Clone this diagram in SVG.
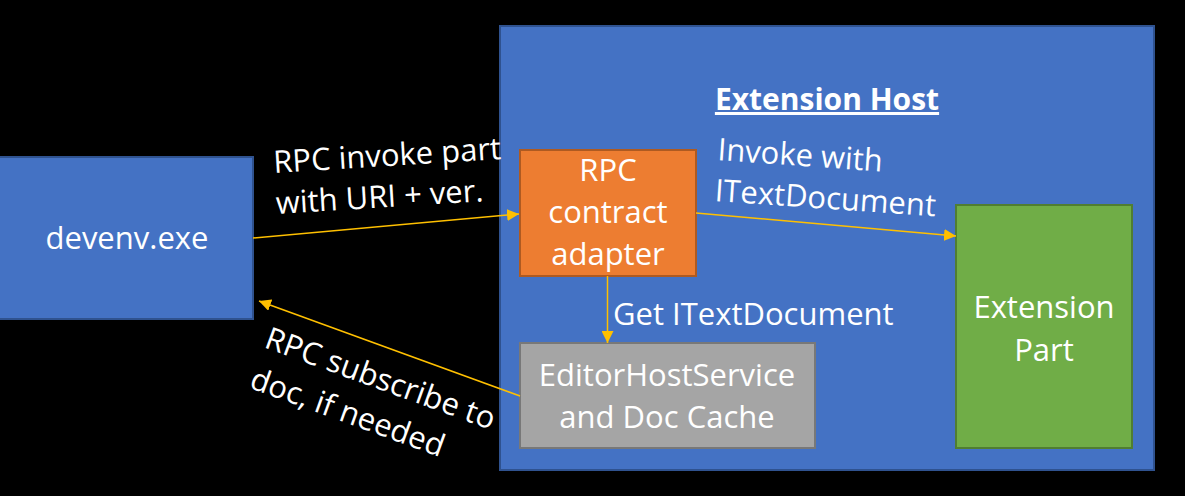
<svg xmlns="http://www.w3.org/2000/svg" width="1185" height="496" viewBox="0 0 1185 496">
<defs>
<style>
.t{font-family:"Open Sans","Noto Sans","DejaVu Sans",sans-serif;font-size:31px;fill:#ffffff}
.c{text-anchor:middle}
.b{font-weight:bold;font-size:30px}
.box{stroke-width:2}
.blue{fill:#4472C4;stroke:#2F528F}
.orange{fill:#ED7D31;stroke:#AE5A21}
.gray{fill:#A5A5A5;stroke:#787878}
.green{fill:#70AD47;stroke:#507E32}
.conn{stroke:#FFC000;stroke-width:1.5;fill:none;marker-end:url(#ah)}
</style>
<marker id="ah" viewBox="0 0 12 12" markerWidth="12" markerHeight="12" refX="12" refY="6" orient="auto" markerUnits="userSpaceOnUse">
<path d="M0,0 L12,6 L0,12 z" fill="#FFC000"/>
</marker>
</defs>
<rect x="0" y="0" width="1185" height="496" fill="#000000"/>
<g id="extension-host">
<rect class="box blue" x="500" y="26" width="654" height="444"/>
<text class="t c b" x="827" y="110" text-decoration="underline">Extension Host</text>
</g>
<g id="devenv">
<rect class="box blue" x="-1" y="157" width="254" height="162"/>
<text class="t c" x="127" y="249">devenv.exe</text>
</g>
<g id="rpc-adapter">
<rect class="box orange" x="520" y="150" width="176" height="126"/>
<text class="t c" x="608" y="181">RPC</text>
<text class="t c" x="608" y="223">contract</text>
<text class="t c" x="608" y="265">adapter</text>
</g>
<g id="editor-host-service">
<rect class="box gray" x="520" y="343" width="295" height="105"/>
<text class="t c" x="667" y="386">EditorHostService</text>
<text class="t c" x="667" y="428">and Doc Cache</text>
</g>
<g id="extension-part">
<rect class="box green" x="956" y="205" width="176" height="243"/>
<text class="t c" x="1044" y="318">Extension</text>
<text class="t c" x="1044" y="361">Part</text>
</g>
<g id="connectors">
<line class="conn" x1="253" y1="238" x2="519" y2="214"/>
<line class="conn" x1="696" y1="213" x2="956" y2="236"/>
<line class="conn" x1="607.5" y1="276" x2="607.5" y2="343"/>
<line class="conn" x1="520" y1="396" x2="259" y2="301"/>
</g>
<g id="labels">
<g transform="translate(274,173) rotate(-3.5)">
<text class="t" x="0" y="0">RPC invoke part</text>
<text class="t" x="0" y="41">with URI + ver.</text>
</g>
<g transform="translate(717,160) rotate(4)">
<text class="t" x="0" y="0">Invoke with</text>
<text class="t" x="0" y="41">ITextDocument</text>
</g>
<text class="t" x="613" y="325">Get ITextDocument</text>
<g transform="translate(263,347) rotate(20)">
<text class="t" x="0" y="0">RPC subscribe to</text>
<text class="t" x="0" y="43">doc, if needed</text>
</g>
</g>
</svg>
